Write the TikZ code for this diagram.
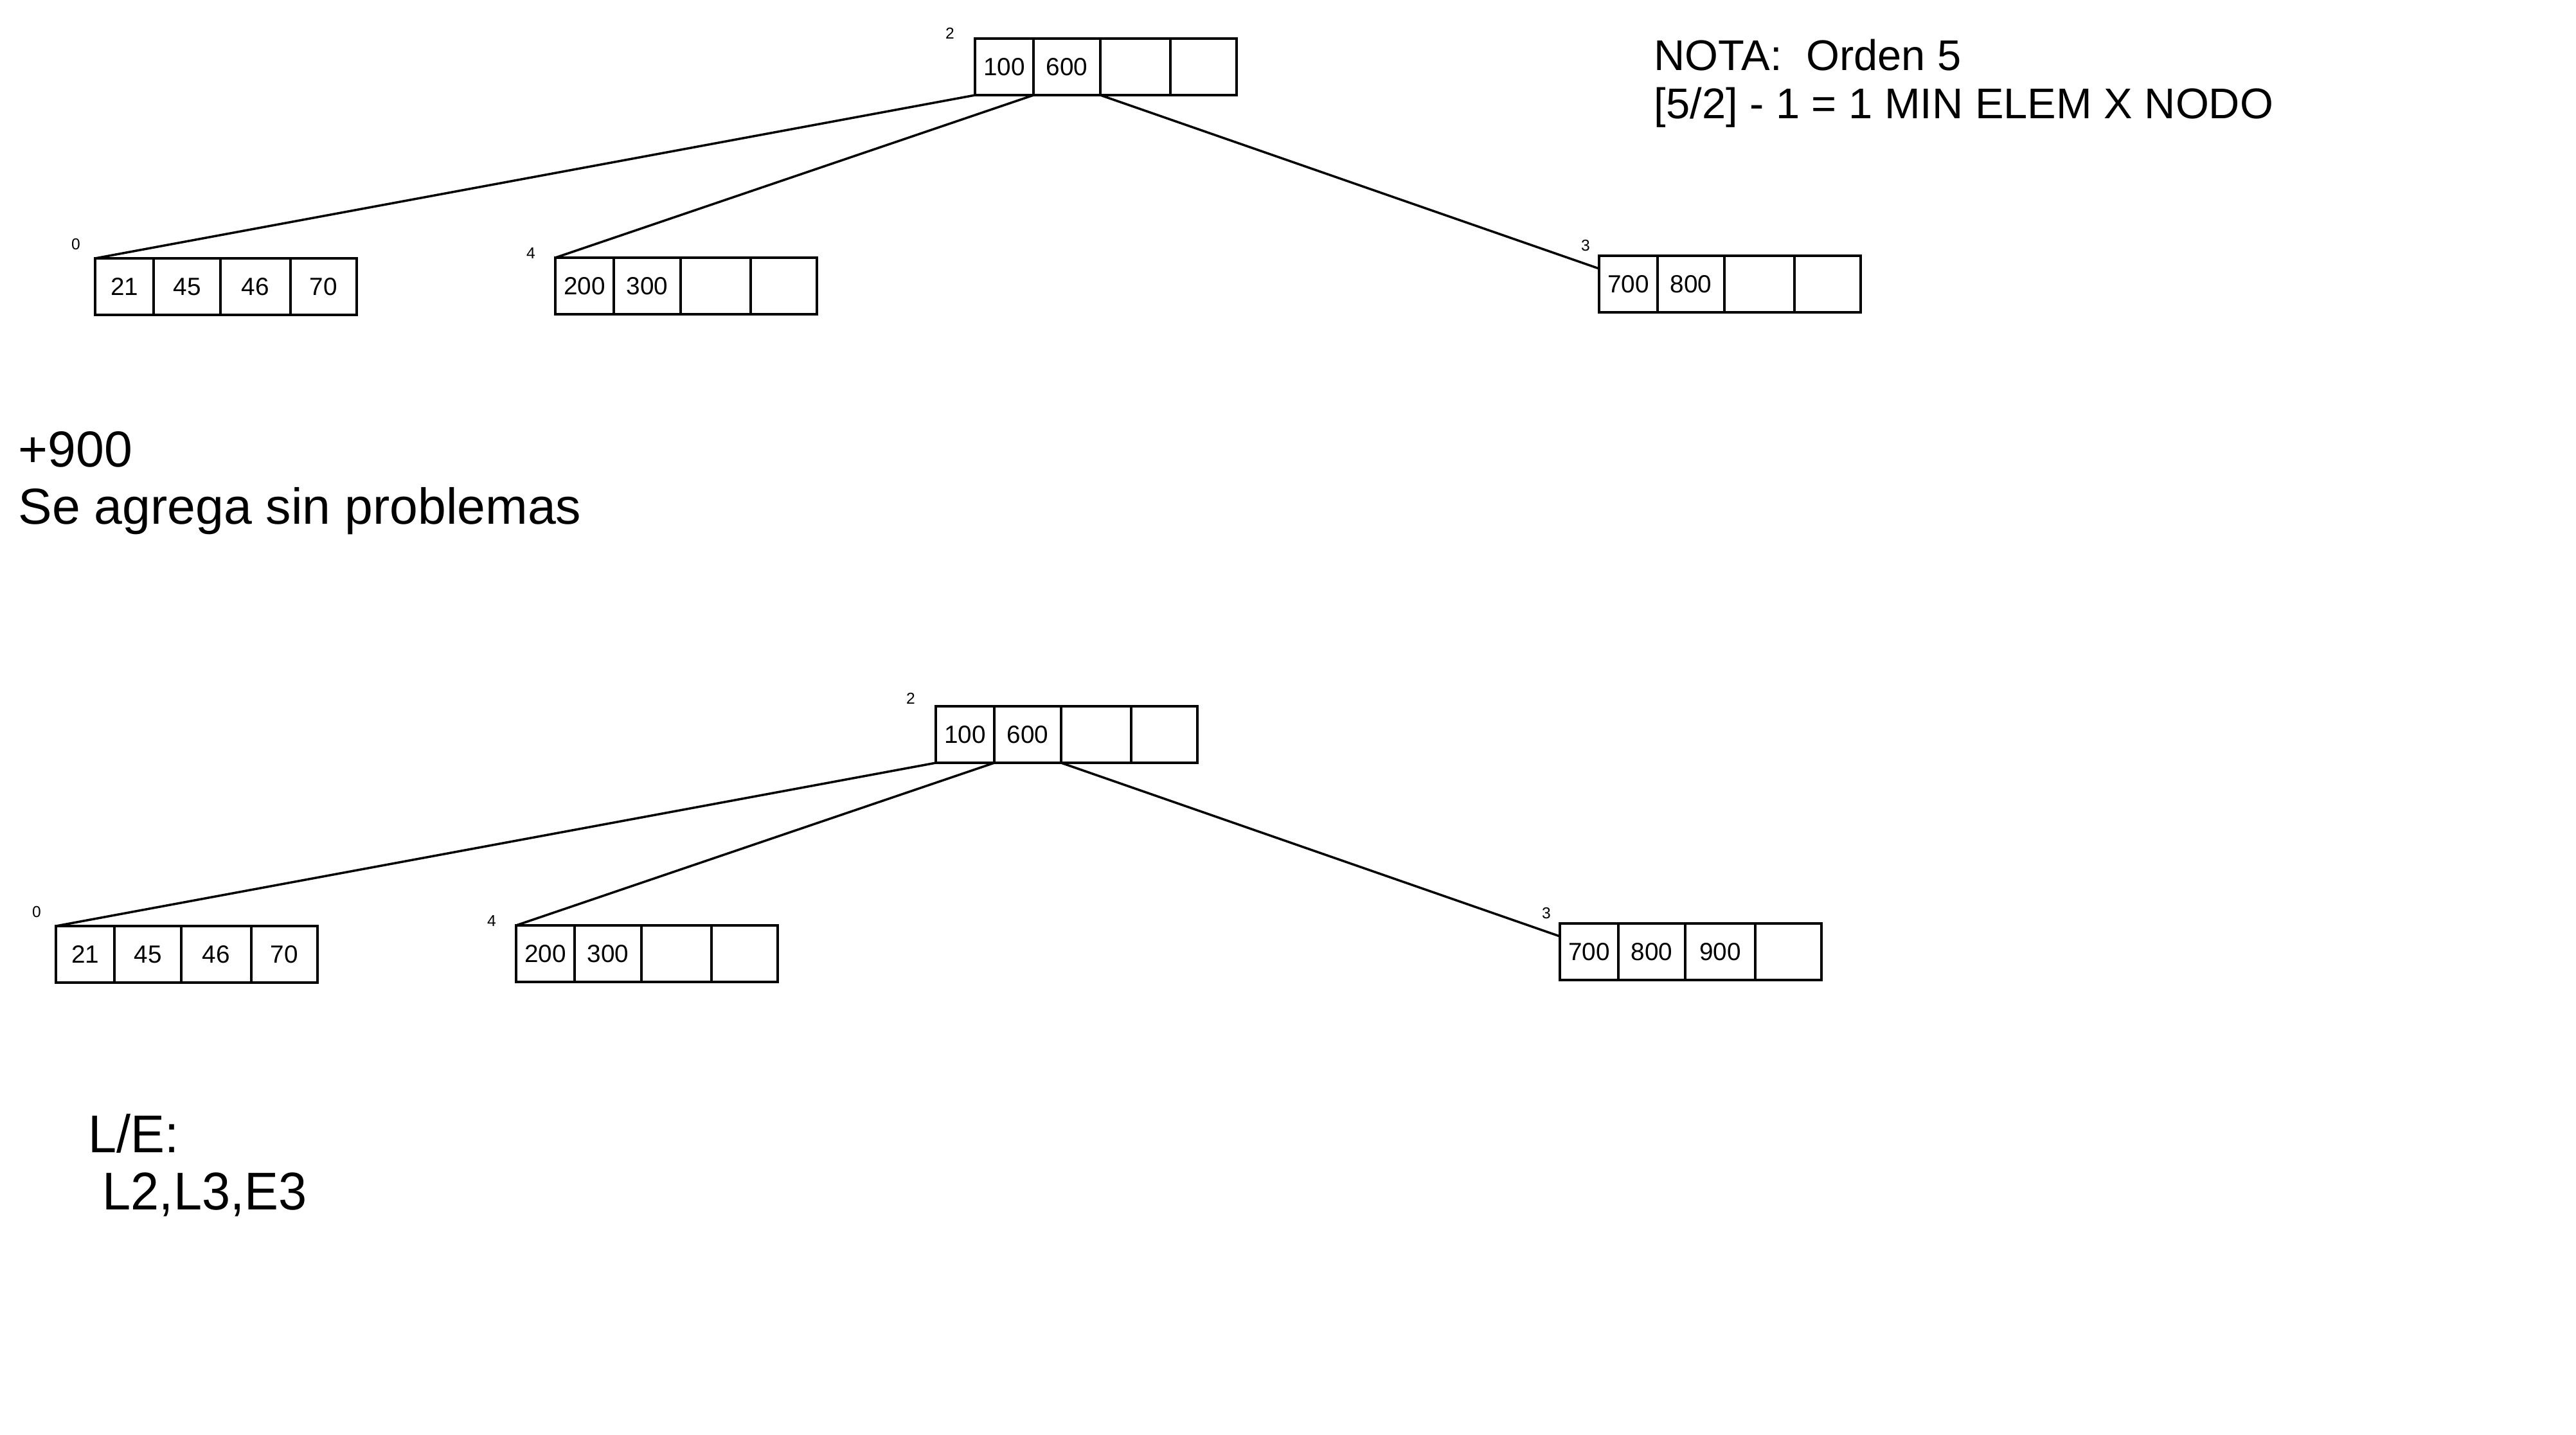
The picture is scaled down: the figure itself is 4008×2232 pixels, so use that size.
\documentclass[tikz,border=0pt]{standalone}
\usepackage{fontspec}
\setmainfont{Liberation Sans}
\newfontfamily\lefont[FakeStretch=0.96]{Liberation Sans}
\usetikzlibrary{positioning}

\tikzset{
    celda/.style={draw, line width=1.1pt, minimum height=0.88cm, inner sep=0pt, outer sep=0pt, font=\fontsize{11}{13}\selectfont},
    nro/.style={font=\fontsize{7}{8}\selectfont, inner sep=0pt},
    rama/.style={line width=1pt},
    texto/.style={align=left, inner sep=0pt, anchor=north west},
}

% nodo de arbol B: nombre, posicion, cuatro claves
\newcommand{\nodob}[6]{%
    \node[celda, minimum width=0.91cm, anchor=north west] (#1-1) at (#2) {#3};
    \node[celda, minimum width=1.04cm, right=0pt of #1-1] (#1-2) {#4};
    \node[celda, minimum width=1.085cm, right=0pt of #1-2] (#1-3) {#5};
    \node[celda, minimum width=1.035cm, right=0pt of #1-3] (#1-4) {#6};
}

\begin{document}
\begin{tikzpicture}[x=0.01cm, y=-0.01cm]
    \useasboundingbox (0,0) rectangle (4008,2232);

    % Arbol inicial
    \nodob{raiz}{1517,60}{100}{600}{}{}
    \nodob{hijoA}{148,402}{21}{45}{46}{70}
    \nodob{hijoB}{864,401}{200}{300}{}{}
    \nodob{hijoC}{2488,398}{700}{800}{}{}

    \node[nro] (nraiz) at ([xshift=-0.39cm, yshift=0.08cm]raiz-1.north west) {2};
    \node[nro] (nhijoA) at ([xshift=-0.30cm, yshift=0.22cm]hijoA-1.north west) {0};
    \node[nro] (nhijoB) at ([xshift=-0.38cm, yshift=0.07cm]hijoB-1.north west) {4};
    \node[nro] (nhijoC) at ([xshift=-0.21cm, yshift=0.16cm]hijoC-1.north west) {3};

    \draw[rama] (raiz-1.south west) -- (hijoA-1.north west);
    \draw[rama] (raiz-1.south east) -- (hijoB-1.north west);
    \draw[rama] (raiz-2.south east) -- ([yshift=-0.2cm]hijoC-1.north west);

    % Nota
    \node[texto, font=\fontsize{19}{21.3}\selectfont] (nota) at (2573,60)
        {NOTA:\ \ Orden 5\\{[}5/2{]} - 1 = 1 MIN ELEM X NODO};

    % Insercion
    \node[texto, font=\fontsize{22.4}{25.3}\selectfont] (paso) at (28,671)
        {+900\\Se agrega sin problemas};

    % Arbol luego de insertar
    \begin{scope}[shift={(-61,1039)}]
        \nodob{raizN}{1517,60}{100}{600}{}{}
        \nodob{hijoAN}{148,402}{21}{45}{46}{70}
        \nodob{hijoBN}{864,401}{200}{300}{}{}
        \nodob{hijoCN}{2488,398}{700}{800}{900}{}

        \node[nro] (nraizN) at ([xshift=-0.39cm, yshift=0.12cm]raizN-1.north west) {2};
        \node[nro] (nhijoAN) at ([xshift=-0.30cm, yshift=0.22cm]hijoAN-1.north west) {0};
        \node[nro] (nhijoBN) at ([xshift=-0.38cm, yshift=0.07cm]hijoBN-1.north west) {4};
        \node[nro] (nhijoCN) at ([xshift=-0.21cm, yshift=0.16cm]hijoCN-1.north west) {3};

        \draw[rama] (raizN-1.south west) -- (hijoAN-1.north west);
        \draw[rama] (raizN-1.south east) -- (hijoBN-1.north west);
        \draw[rama] (raizN-2.south east) -- ([yshift=-0.2cm]hijoCN-1.north west);
    \end{scope}

    % Lecturas y escrituras
    \node[texto, font=\lefont\fontsize{23.5}{25.2}\selectfont] (le) at (137,1733)
        {L/E:\\~L2,L3,E3};
\end{tikzpicture}
\end{document}
